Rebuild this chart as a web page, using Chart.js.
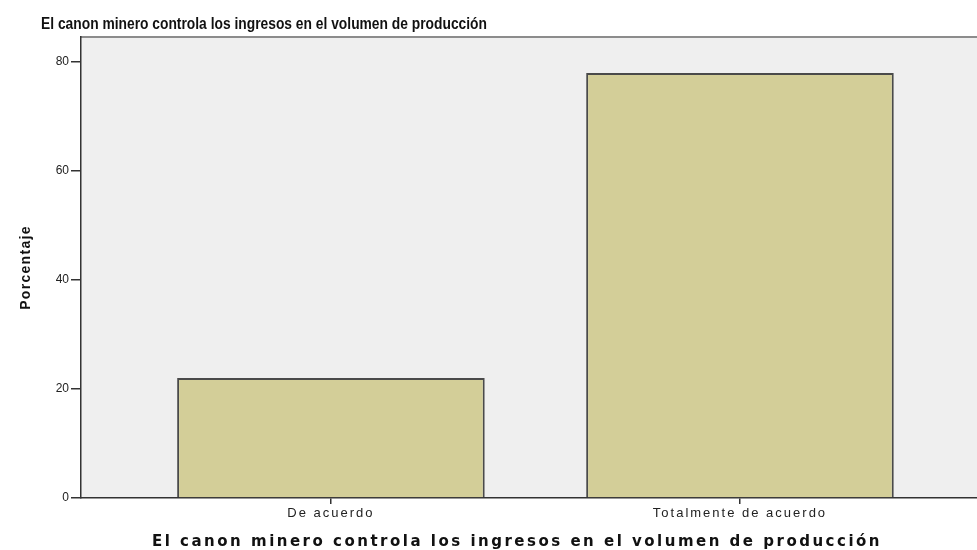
<!DOCTYPE html>
<html>
<head>
<meta charset="utf-8">
<script src="https://cdn.jsdelivr.net/npm/chart.js@4"></script>
<style>
html,body{margin:0;padding:0;background:#fff;overflow:hidden;}
#wrap{width:977px;height:550px;position:relative;}
</style>
</head>
<body>
<div id="wrap"><canvas id="c"></canvas></div>
<script>
const categories = ['De acuerdo', 'Totalmente de acuerdo'];
const percentages = [22, 78];
const yTickValues = [0, 20, 40, 60, 80];
const chartTitle = 'El canon minero controla los ingresos en el volumen de producción';
const xAxisTitle = 'El canon minero controla los ingresos en el volumen de producción';
const yAxisTitle = 'Porcentaje';

function withSpacing(scale, method, spacing) {
  const key = '_patched_' + method;
  if (scale[key]) return;
  const orig = scale[method];
  scale[method] = function (...args) {
    const ctx = this.ctx;
    ctx.save();
    ctx.letterSpacing = spacing;
    const r = orig.apply(this, args);
    ctx.restore();
    return r;
  };
  scale[key] = true;
}

const extras = {
  id: 'extras',
  afterLayout(chart) {
    withSpacing(chart.scales.x, 'drawLabels', '2px');
    withSpacing(chart.scales.y, 'drawTitle', '1.3px');
  },
  beforeDraw(chart) {
    const {ctx, chartArea: a} = chart;
    ctx.save();
    ctx.fillStyle = '#efefef';
    ctx.fillRect(a.left, a.top, a.right - a.left, a.bottom - a.top);
    ctx.strokeStyle = '#8c8c8c';
    ctx.lineWidth = 2;
    ctx.beginPath();
    ctx.moveTo(a.left, a.top);
    ctx.lineTo(a.right, a.top);
    ctx.stroke();
    ctx.restore();
  },
  afterDraw(chart) {
    const ctx = chart.ctx;
    ctx.save();
    ctx.fillStyle = '#111';
    ctx.textBaseline = 'alphabetic';
    // main title (condensed to the reference width)
    ctx.font = 'bold 17px "Liberation Sans", Arial, sans-serif';
    ctx.textAlign = 'left';
    const w = ctx.measureText(chartTitle).width;
    const sx = 446 / w;
    ctx.save();
    ctx.translate(41, 29);
    ctx.scale(sx, 1);
    ctx.fillText(chartTitle, 0, 0);
    ctx.restore();
    // x axis title
    ctx.font = 'bold 15px "DejaVu Sans", Verdana, sans-serif';
    ctx.letterSpacing = '2.5px';
    ctx.textAlign = 'center';
    ctx.fillText(xAxisTitle, 517, 546);
    ctx.restore();
  }
};

new Chart(document.getElementById('c'), {
  type: 'bar',
  data: {
    datasets: [{
      data: categories.map((c, i) => ({x: i, y: percentages[i]})),
      backgroundColor: '#d3ce98',
      borderColor: '#4a4a4a',
      borderWidth: 2,
      barPercentage: 0.752,
      categoryPercentage: 1
    }]
  },
  options: {
    responsive: true,
    maintainAspectRatio: false,
    animation: false,
    layout: {padding: {top: 37, left: 0, right: 0, bottom: 0}},
    plugins: {legend: {display: false}, tooltip: {enabled: false}, title: {display: false}},
    scales: {
      x: {
        type: 'linear',
        min: -0.611,
        max: 1.5795,
        offset: false,
        afterBuildTicks: s => { s.ticks = categories.map((c, i) => ({value: i})); },
        afterFit: s => { s.height = 52; },
        ticks: {
          autoSkip: false,
          maxRotation: 0,
          padding: 2,
          color: '#222',
          font: {family: '"Liberation Sans", Arial, sans-serif', size: 13},
          callback: v => categories[v]
        },
        grid: {offset: false, drawOnChartArea: false, drawTicks: true, tickLength: 6, color: '#333', lineWidth: 1.5},
        border: {display: true, color: '#333', width: 1.5}
      },
      y: {
        min: 0,
        max: 84.6,
        afterBuildTicks: s => { s.ticks = yTickValues.map(v => ({value: v})); },
        afterFit: s => { s.width = 81; },
        ticks: {
          padding: 2,
          color: '#222',
          font: {family: '"Liberation Sans", Arial, sans-serif', size: 12}
        },
        grid: {drawOnChartArea: false, drawTicks: true, tickLength: 10, color: '#333', lineWidth: 1.5},
        border: {display: true, color: '#333', width: 1.5},
        title: {
          display: true,
          text: yAxisTitle,
          color: '#111',
          padding: {top: 18, bottom: 0},
          font: {family: '"Liberation Sans", Arial, sans-serif', size: 14, weight: 'bold'}
        }
      }
    }
  },
  plugins: [extras]
});
</script>
</body>
</html>
